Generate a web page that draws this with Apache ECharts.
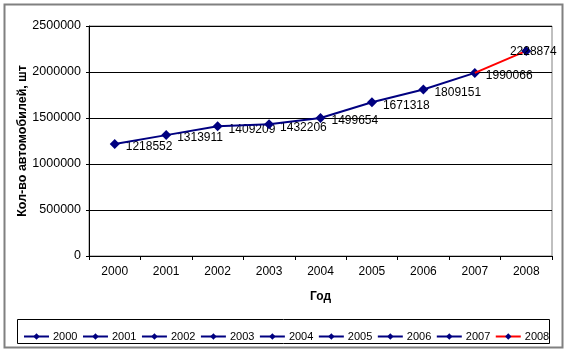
<!DOCTYPE html>
<html>
<head>
<meta charset="utf-8">
<script src="https://cdn.jsdelivr.net/npm/echarts@6/dist/echarts.min.js"></script>
<style>
  html, body { margin: 0; padding: 0; background: #fff; }
  #chart { width: 568px; height: 353px; }
</style>
</head>
<body>
<div id="chart"></div>
<script>
// данные
const years = ['2000', '2001', '2002', '2003', '2004', '2005', '2006', '2007', '2008']
const cars = [1218552, 1313911, 1409209, 1432206, 1499654, 1671318, 1809151, 1990066, 2228874]
const lineColors = ['#000080', '#000080', '#000080', '#000080', '#000080', '#000080', '#000080', '#000080', '#ff0000']
const yTicks = [0, 500000, 1000000, 1500000, 2000000, 2500000]

const chart = echarts.init(document.getElementById('chart'))

// каждый год - своя серия: точка года и отрезок от предыдущего года
const series = years.map((year, i) => {
  const data = years.map((y, j) => {
    if (j === i) {
      const item = { value: cars[j] }
      if (i === years.length - 1) {
        item.label = { position: 'inside', offset: [7, 1] }
      }
      return item
    }
    if (j === i - 1) {
      return { value: cars[j], symbol: 'none', label: { show: false } }
    }
    return null
  })
  return {
    name: year,
    type: 'line',
    data: data,
    symbol: 'diamond',
    symbolSize: 10,
    showSymbol: true,
    connectNulls: false,
    lineStyle: { color: lineColors[i], width: 2 },
    itemStyle: { color: '#000080' },
    label: {
      show: true,
      position: 'right',
      distance: 6,
      offset: [0, 3],
      color: '#000',
      fontSize: 12,
      fontFamily: 'Liberation Sans'
    },
    z: 2 + i
  }
})

chart.setOption({
  animation: false,
  textStyle: { fontFamily: 'Liberation Sans' },
  grid: {
    left: 89,
    right: 16,
    top: 26,
    bottom: 97,
    show: true,
    borderColor: '#808080',
    borderWidth: 1
  },
  xAxis: {
    type: 'category',
    data: years,
    boundaryGap: true,
    name: 'Год',
    nameLocation: 'middle',
    nameGap: 35,
    nameTextStyle: { fontSize: 12, fontWeight: 'bold', color: '#000' },
    axisLine: { lineStyle: { color: '#000', width: 1 } },
    axisTick: { show: true, length: 4, alignWithLabel: false, lineStyle: { color: '#000' } },
    axisLabel: { fontSize: 12, color: '#000', margin: 10 }
  },
  yAxis: {
    type: 'value',
    min: yTicks[0],
    max: yTicks[yTicks.length - 1],
    interval: yTicks[1] - yTicks[0],
    name: 'Кол-во автомобилей, шт',
    nameLocation: 'middle',
    nameGap: 60,
    nameMoveOverlap: false,
    nameTextStyle: { fontSize: 12.5, fontWeight: 'bold', color: '#000' },
    axisLine: { show: true, lineStyle: { color: '#000', width: 1 } },
    axisTick: { show: true, length: 3, lineStyle: { color: '#000' } },
    axisLabel: { fontSize: 12.5, color: '#000', margin: 8, formatter: v => String(v) },
    splitLine: { lineStyle: { color: '#000', width: 1 } }
  },
  legend: {
    data: years,
    left: 18,
    top: 326,
    itemWidth: 25,
    itemHeight: 8,
    itemGap: 4.5,
    textStyle: { fontSize: 11, color: '#000', padding: [0, 0, 0, -1] }
  },
  graphic: [
    {
      type: 'rect',
      shape: { x: 4.5, y: 4.5, width: 558, height: 343 },
      style: { fill: 'none', stroke: '#808080', lineWidth: 2 },
      silent: true
    },
    {
      type: 'rect',
      shape: { x: 17.5, y: 319.5, width: 532, height: 24 },
      style: { fill: 'none', stroke: '#000', lineWidth: 1 },
      silent: true
    }
  ],
  series: series
})
</script>
</body>
</html>
